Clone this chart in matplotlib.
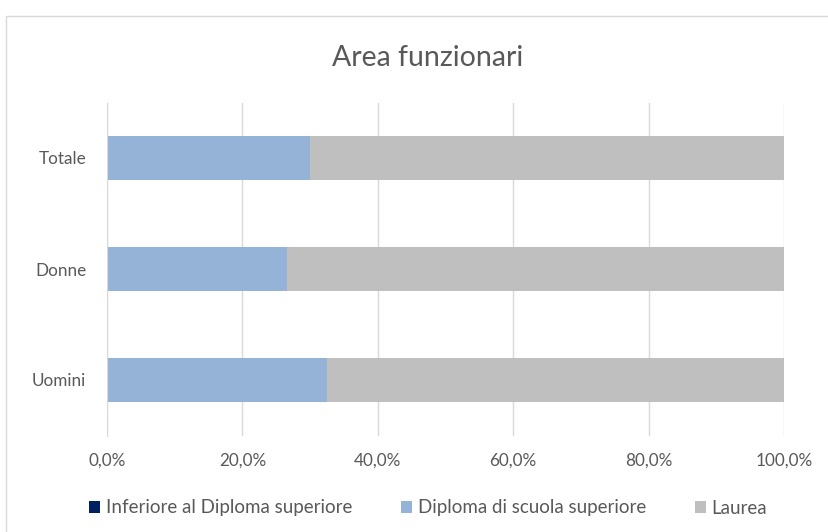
import matplotlib
matplotlib.use("Agg")
import matplotlib.pyplot as plt
from matplotlib.patches import Rectangle
from matplotlib.ticker import FuncFormatter

categories = ["Uomini", "Donne", "Totale"]
inferiore = [0.0, 0.0, 0.0]
diploma = [32.5, 26.6, 30.0]
laurea = [67.5, 73.4, 70.0]
series_names = ["Inferiore al Diploma superiore", "Diploma di scuola superiore", "Laurea"]
colors = ["#002060", "#95B3D7", "#BFBFBF"]
xticks = [0, 20, 40, 60, 80, 100]

plt.rcParams['font.family'] = ['Lato', 'DejaVu Sans']
W, H = 829, 532
fig = plt.figure(figsize=(W/100, H/100), dpi=100)
fig.patch.set_facecolor("white")
ax = fig.add_axes([107/W, 1-435.5/H, (784-107)/W, (435.5-102.5)/H])

y = range(len(categories))
left = [0]*3
for vals, name, c in zip([inferiore, diploma, laurea], series_names, colors):
    ax.barh(list(y), vals, left=left, height=0.4, color=c, label=name, zorder=3)
    left = [l+v for l, v in zip(left, vals)]

ax.set_xlim(0, 100)
ax.set_ylim(-0.5, 2.5)
ax.set_yticks(list(y))
ax.set_yticklabels(categories)
ax.set_xticks(xticks)
ax.xaxis.set_major_formatter(FuncFormatter(lambda v, p: f"{v:.1f}%".replace(".", ",")))
ax.grid(axis="x", color="#D9D9D9", linewidth=1, zorder=0)
for s in ["top", "right", "bottom"]:
    ax.spines[s].set_visible(False)
ax.spines["left"].set_color("#D9D9D9")
ax.spines["left"].set_zorder(4)
ax.tick_params(length=0, labelsize=12.3, colors="#595959")
ax.tick_params(axis="x", pad=12)
ax.tick_params(axis="y", pad=15)

cx = 428/W
fig.text(cx, 1-58/H, "Area funzionari", ha="center", va="center", fontsize=20.5, color="#595959")

leg = fig.legend(loc="center", bbox_to_anchor=(cx, 1-508/H), ncol=3, frameon=False,
                 fontsize=13.5, handlelength=0.6, handleheight=0.6, handletextpad=0.3,
                 columnspacing=2.6)
for t in leg.get_texts():
    t.set_color("#595959")

fig.patches.append(Rectangle((6/W, -0.05), 1.1, 1-16/H+0.05, transform=fig.transFigure,
                             fill=False, edgecolor="#D9D9D9", linewidth=1))

fig.savefig("out.png", dpi=100)
